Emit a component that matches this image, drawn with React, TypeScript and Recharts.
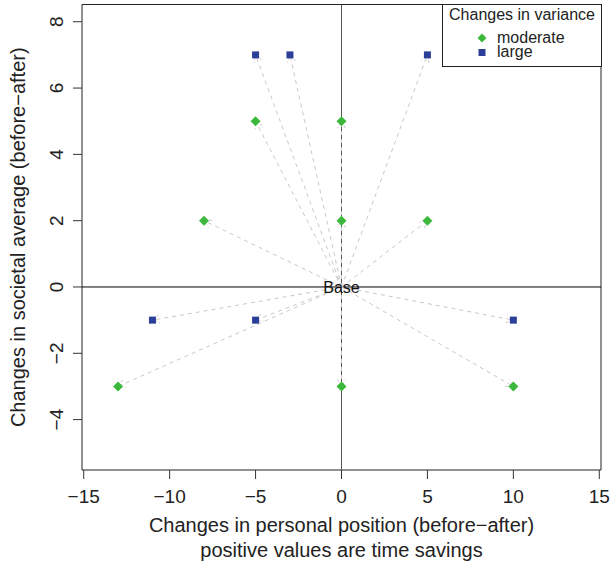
import {
  Label,
  ReferenceArea,
  ReferenceDot,
  ReferenceLine,
  Scatter,
  ScatterChart,
  XAxis,
  YAxis,
} from 'recharts';

// points (x = personal position change, y = societal average change)
const moderateX = [0, -5, -8, 0, 5, -13, 0, 10];
const moderateY = [5, 5, 2, 2, 2, -3, -3, -3];
const largeX = [-5, -3, 5, -11, -5, 10];
const largeY = [7, 7, 7, -1, -1, -1];
const baseX = 0;
const baseY = 0;

const xTicks = [-15, -10, -5, 0, 5, 10, 15];
const yTicks = [-4, -2, 0, 2, 4, 6, 8];
const xDomain = [-15.1, 15.1];
const yDomain = [-5.52, 8.52];

const GREEN = '#3cb83c';
const BLUE = '#2b3f98';
const FONT = '"Liberation Sans", Arial, Helvetica, sans-serif';

const moderate = moderateX.map((x, i) => ({ x, y: moderateY[i] }));
const large = largeX.map((x, i) => ({ x, y: largeY[i] }));
// base -> point pairs, joined two by two in ArrowLines
const arrows = [...large, ...moderate].flatMap((p) => [{ x: baseX, y: baseY }, p]);

const fmt = (v: number) => (v < 0 ? '\u2212' + Math.abs(v) : String(v));

const ArrowLines = (props: any) => {
  const pts = props.points || [];
  const out = [];
  for (let i = 0; i + 1 < pts.length; i += 2) {
    const a = pts[i];
    const b = pts[i + 1];
    const ang = Math.atan2(b.y - a.y, b.x - a.x);
    const len = 8;
    const sp = Math.PI / 6;
    const h1x = b.x - len * Math.cos(ang - sp);
    const h1y = b.y - len * Math.sin(ang - sp);
    const h2x = b.x - len * Math.cos(ang + sp);
    const h2y = b.y - len * Math.sin(ang + sp);
    out.push(
      <g key={i} stroke="#c8c8c8" strokeWidth={1} strokeDasharray="4 4" fill="none">
        <line x1={a.x} y1={a.y} x2={b.x} y2={b.y} />
        <path d={`M${h1x},${h1y}L${b.x},${b.y}L${h2x},${h2y}`} strokeDasharray="3 2" />
      </g>
    );
  }
  return <g>{out}</g>;
};

const Diamond = (props: any) => {
  const { cx, cy } = props;
  const r = 5;
  return <path d={`M${cx},${cy - r}L${cx + r},${cy}L${cx},${cy + r}L${cx - r},${cy}Z`} fill={GREEN} />;
};

const Square = (props: any) => {
  const { cx, cy } = props;
  return <rect x={cx - 3.5} y={cy - 3.5} width={7} height={7} fill={BLUE} />;
};

const XTick = ({ x, y, payload }: any) => (
  <text x={x} y={y} textAnchor="middle" fontSize={19} fill="#222" fontFamily={FONT}>
    {fmt(payload.value)}
  </text>
);

const YTick = ({ x, y, payload }: any) => (
  <text x={x} y={y} textAnchor="middle" fontSize={19} fill="#222" fontFamily={FONT} transform={`rotate(-90, ${x}, ${y})`}>
    {fmt(payload.value)}
  </text>
);

const XTitle = ({ viewBox }: any) => {
  const cx = viewBox.x + viewBox.width / 2;
  return (
    <g fontFamily={FONT} fontSize={20} fill="#222" textAnchor="middle">
      <text x={cx} y={532}>Changes in personal position (before{'\u2212'}after)</text>
      <text x={cx} y={557}>positive values are time savings</text>
    </g>
  );
};

const YTitle = ({ viewBox }: any) => {
  const cy = viewBox.y + viewBox.height / 2;
  return (
    <text x={25} y={cy} fontFamily={FONT} fontSize={20} fill="#222" textAnchor="middle" transform={`rotate(-90, 25, ${cy})`}>
      Changes in societal average (before{'\u2212'}after)
    </text>
  );
};

const LegendBox = () => (
  <svg width={161} height={64} style={{ position: 'absolute', left: 442, top: 4 }}>
    <rect x={0.5} y={0.5} width={159} height={62} fill="#fff" stroke="#222" />
    <text x={80} y={15.5} textAnchor="middle" fontSize={16} fontFamily={FONT} fill="#222">Changes in variance</text>
    <path d="M40,29.5L44.5,34L40,38.5L35.5,34Z" fill={GREEN} />
    <text x={55} y={38.5} fontSize={16} fontFamily={FONT} fill="#222">moderate</text>
    <rect x={36.5} y={45} width={7} height={7} fill={BLUE} />
    <text x={55} y={53} fontSize={16} fontFamily={FONT} fill="#222">large</text>
  </svg>
);

export default function App() {
  return (
    <div style={{ position: 'absolute', left: 0, top: 0, width: 616, height: 570, background: '#fff' }}>
      <ScatterChart width={616} height={570} margin={{ top: 4.5, right: 15, bottom: 70, left: 0 }}>
        <XAxis
          type="number"
          dataKey="x"
          domain={xDomain}
          ticks={xTicks}
          allowDataOverflow
          axisLine={false}
          tickLine={{ stroke: '#333' }}
          tickSize={9}
          tickMargin={24}
          tick={<XTick />}
          height={30}
        >
          <Label content={<XTitle />} />
        </XAxis>
        <YAxis
          type="number"
          dataKey="y"
          domain={yDomain}
          ticks={yTicks}
          allowDataOverflow
          axisLine={false}
          tickLine={{ stroke: '#333' }}
          tickSize={9}
          tickMargin={10}
          tick={<YTick />}
          width={82}
        >
          <Label content={<YTitle />} />
        </YAxis>
        <ReferenceArea x1={xDomain[0]} x2={xDomain[1]} y1={yDomain[0]} y2={yDomain[1]} fill="none" stroke="#222" strokeWidth={1} fillOpacity={0} />
        <ReferenceLine x={0} stroke="#555" strokeWidth={1} />
        <ReferenceLine y={0} stroke="#000" strokeWidth={1} />
        <Scatter
          data={arrows}
          line={<ArrowLines />}
          shape={() => <g />}
          isAnimationActive={false}
          legendType="none"
        />
        <Scatter data={moderate} shape={<Diamond />} isAnimationActive={false} />
        <Scatter data={large} shape={<Square />} isAnimationActive={false} />
        <ReferenceDot
          x={baseX}
          y={baseY}
          r={0}
          fill="none"
          stroke="none"
          label={{ value: 'Base', position: 'center', fontSize: 16, fill: '#111', fontFamily: FONT }}
        />
      </ScatterChart>
      <LegendBox />
    </div>
  );
}
